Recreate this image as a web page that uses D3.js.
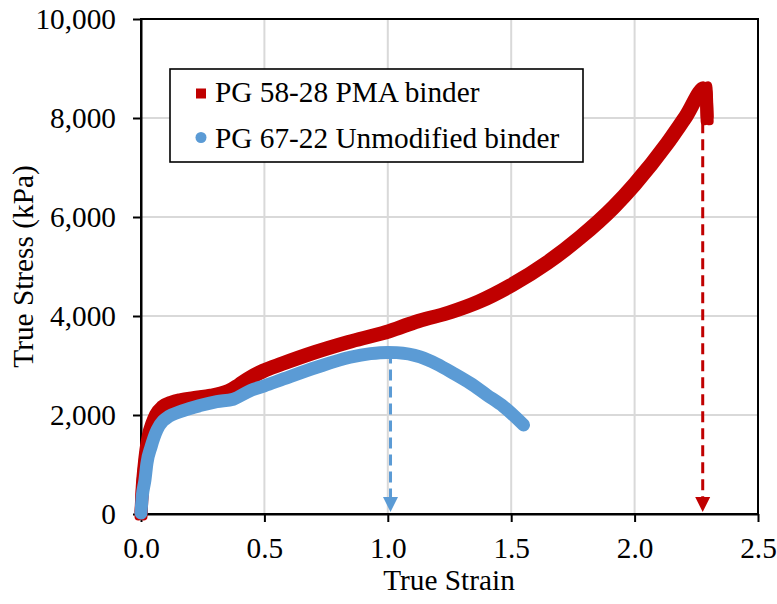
<!DOCTYPE html>
<html>
<head>
<meta charset="utf-8">
<script src="https://cdn.jsdelivr.net/npm/d3@7"></script>
<style>
  html, body { margin: 0; padding: 0; background: #fff; }
  svg { display: block; font-family: "Liberation Serif", "Times New Roman", serif; }
</style>
</head>
<body>
<svg id="chart" width="777" height="604"></svg>
<script>
// True stress–strain curves of two binders (strain, stress in kPa)
const pmaStrain = [0.000, 0.005, 0.012, 0.020, 0.030, 0.045, 0.060, 0.090, 0.130, 0.170, 0.220, 0.290, 0.330, 0.360, 0.400, 0.442, 0.500, 0.577, 0.712, 0.847, 1.000, 1.117, 1.253, 1.374, 1.500, 1.644, 1.780, 1.915, 2.000, 2.131, 2.205, 2.288, 2.294];
const pmaStress = [0, 500, 900, 1250, 1550, 1800, 1980, 2160, 2260, 2310, 2350, 2400, 2440, 2490, 2610, 2750, 2900, 3045, 3280, 3483, 3685, 3887, 4076, 4300, 4620, 5070, 5590, 6200, 6660, 7480, 8010, 8610, 7983];

const unmodStrain = [0.000, 0.005, 0.016, 0.024, 0.041, 0.065, 0.089, 0.104, 0.171, 0.239, 0.307, 0.374, 0.442, 0.500, 0.577, 0.712, 0.847, 0.930, 1.000, 1.036, 1.131, 1.198, 1.266, 1.334, 1.401, 1.469, 1.550];
const unmodStress = [20, 350, 687, 1024, 1361, 1700, 1880, 1940, 2088, 2190, 2270, 2320, 2492, 2590, 2728, 2964, 3166, 3240, 3265, 3260, 3173, 3031, 2843, 2641, 2405, 2170, 1799];

// Failure strain marked by a dashed arrow for each binder
const failStrain = [2.276, 1.011];
const failStress = [8600, 3265];

const seriesNames = ["PG 58-28 PMA binder", "PG 67-22 Unmodified binder"];
const seriesColors = ["#C00000", "#5B9BD5"];

const strainTicks = [0, 0.5, 1.0, 1.5, 2.0, 2.5];
const stressTicks = [0, 2000, 4000, 6000, 8000, 10000];

const svg = d3.select("#chart");
const plotL = 141, plotR = 758, plotT = 19, plotB = 514;
const fontSize = 29.3;

const x = d3.scaleLinear().domain([0, 2.5]).range([plotL, plotR]);
const y = d3.scaleLinear().domain([0, 10000]).range([plotB, plotT]);

// grid
const grid = svg.append("g");
grid.selectAll("line.vx").data(strainTicks.slice(1, -1)).join("line")
  .attr("x1", d => x(d)).attr("x2", d => x(d))
  .attr("y1", plotT).attr("y2", plotB)
  .attr("stroke", "#d9d9d9").attr("stroke-width", 2);
grid.selectAll("line.hy").data(stressTicks.slice(1, -1)).join("line")
  .attr("x1", plotL).attr("x2", plotR)
  .attr("y1", d => y(d)).attr("y2", d => y(d))
  .attr("stroke", "#d9d9d9").attr("stroke-width", 2);

// frame
svg.append("rect")
  .attr("x", plotL).attr("y", plotT)
  .attr("width", plotR - plotL).attr("height", plotB - plotT)
  .attr("fill", "none").attr("stroke", "#000").attr("stroke-width", 2);

// axes
const xAxis = svg.append("g").attr("transform", `translate(0,${plotB})`)
  .call(d3.axisBottom(x).tickValues(strainTicks).tickFormat(d3.format(".1f"))
    .tickSize(8).tickSizeOuter(0).tickPadding(15.5));
const yAxis = svg.append("g").attr("transform", `translate(${plotL},0)`)
  .call(d3.axisLeft(y).tickValues(stressTicks).tickFormat(d3.format(","))
    .tickSize(8).tickSizeOuter(0).tickPadding(17));
[xAxis, yAxis].forEach(a => {
  a.select(".domain").attr("stroke", "#000").attr("stroke-width", 2);
  a.selectAll(".tick line").attr("stroke", "#000").attr("stroke-width", 2);
  a.selectAll(".tick text").attr("fill", "#000")
    .style("font-family", "'Liberation Serif', 'Times New Roman', serif")
    .style("font-size", fontSize + "px");
});

// axis titles
svg.append("text")
  .attr("x", (plotL + plotR) / 2 - 0.5).attr("y", 590)
  .attr("text-anchor", "middle")
  .style("font-size", fontSize + "px")
  .text("True Strain");
svg.append("text")
  .attr("transform", `translate(33,${(plotT + plotB) / 2}) rotate(-90)`)
  .attr("text-anchor", "middle")
  .style("font-size", fontSize + "px")
  .text("True Stress (kPa)");

const line = d3.line()
  .x(d => x(d[0])).y(d => y(d[1]))
  .curve(d3.curveMonotoneX);

// dashed drop lines with arrowheads
failStrain.forEach((s, i) => {
  const g = svg.append("g");
  g.append("line")
    .attr("x1", x(s)).attr("x2", x(s))
    .attr("y1", y(failStress[i])).attr("y2", y(0) - 12)
    .attr("stroke", seriesColors[i]).attr("stroke-width", 3)
    .attr("stroke-dasharray", "11,6");
  const tx = x(s), ty = y(0) - 2;
  g.append("path")
    .attr("d", `M${tx - 7.5},${ty - 15}L${tx + 7.5},${ty - 15}L${tx},${ty}Z`)
    .attr("fill", seriesColors[i]);
});

// PMA binder: square markers
const pmaPts = pmaStrain.map((s, i) => [s, pmaStress[i]]);
const pmaG = svg.append("g");
[[-2.5, -2.5], [2.5, -2.5], [-2.5, 2.5], [2.5, 2.5]].forEach(([dx, dy]) => {
  pmaG.append("path")
    .attr("d", line(pmaPts))
    .attr("transform", `translate(${dx},${dy})`)
    .attr("fill", "none")
    .attr("stroke", seriesColors[0])
    .attr("stroke-width", 8)
    .attr("stroke-linejoin", "round")
    .attr("stroke-linecap", "round");
});

// Unmodified binder: round markers
const unmodPts = unmodStrain.map((s, i) => [s, unmodStress[i]]);
svg.append("path")
  .attr("d", line(unmodPts))
  .attr("fill", "none")
  .attr("stroke", seriesColors[1])
  .attr("stroke-width", 13)
  .attr("stroke-linejoin", "round")
  .attr("stroke-linecap", "round");

// legend
const lg = svg.append("g");
lg.append("rect")
  .attr("x", 170).attr("y", 69).attr("width", 413).attr("height", 93)
  .attr("fill", "#fff").attr("stroke", "#000").attr("stroke-width", 1.6);
lg.append("rect")
  .attr("x", 196).attr("y", 88.5).attr("width", 10).attr("height", 10)
  .attr("fill", seriesColors[0]);
lg.append("circle")
  .attr("cx", 201).attr("cy", 137.5).attr("r", 5.5)
  .attr("fill", seriesColors[1]);
lg.selectAll("text.lab").data(seriesNames).join("text")
  .attr("x", 215)
  .attr("y", (d, i) => i === 0 ? 101.7 : 148.3)
  .style("font-size", fontSize + "px")
  .text(d => d);
</script>
</body>
</html>
